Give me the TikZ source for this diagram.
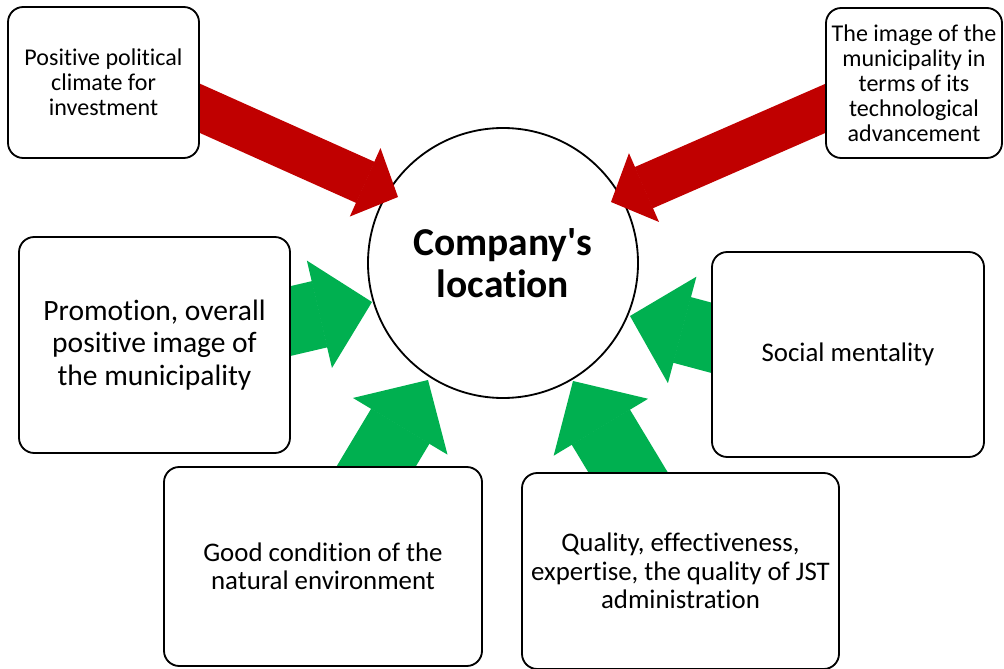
\documentclass[tikz,border=0pt]{standalone}
\usepackage{fontspec}
\setmainfont{Carlito}[Ligatures={TeXOff,NoCommon}]
\usetikzlibrary{arrows.meta}
\definecolor{darkred}{HTML}{C00000}
\definecolor{brightgreen}{HTML}{00B050}
\pgfdeclarelayer{back}
\pgfdeclarelayer{mid}
\pgfsetlayers{back,mid,main}

\begin{document}
\begin{tikzpicture}[
    box/.style={draw, fill=white, line width=1.3pt, rounded corners=0.38cm, align=center},
    hub/.style={draw, fill=white, circle, line width=1.3pt, minimum size=6.75cm, inner sep=0pt, align=center, font=\bfseries\fontsize{28.1}{29.9}\selectfont},
    smalltext/.style={font=\fontsize{17.1}{17.8}\selectfont},
    midtext/.style={font=\fontsize{19.1}{20.3}\selectfont},
    bigtext/.style={font=\fontsize{21}{23.1}\selectfont},
    redarrow/.style={draw=darkred, line width=1.125cm, -{Triangle[width=1.87cm, length=0.9cm, line width=1pt]}, shorten <=-0.6cm},
    greenarrow/.style={draw=brightgreen, line width=1.7cm, -{Triangle[width=2.75cm, length=1.35cm, line width=1pt]}, shorten <=-0.6cm},
]
\useasboundingbox (0,0) rectangle (25.1,16.7);

% the circle in the middle sits under the arrows
\begin{pgfonlayer}{back}
\node[hub] (loc) at (12.575,10.125) {Company's\\location};
\end{pgfonlayer}

% factors
\node[box, smalltext, minimum width=4.775cm, minimum height=3.775cm] (climate) at (2.5875,14.6375) {Positive political\\climate for\\investment};
\node[box, smalltext, minimum width=4.4cm, minimum height=3.75cm] (tech) at (22.85,14.625) {The image of the\\municipality in\\terms of its\\technological\\advancement};
\node[box, bigtext, minimum width=6.775cm, minimum height=5.4cm] (promo) at (3.8625,8.075) {Promotion, overall\\positive image of\\the municipality};
\node[box, midtext, minimum width=6.8cm, minimum height=5.125cm] (social) at (21.2,7.8375) {Social mentality};
\node[box, midtext, minimum width=7.95cm, minimum height=4.975cm] (nature) at (8.075,2.5375) {Good condition of the\\natural environment};
\node[box, midtext, minimum width=7.925cm, minimum height=4.9cm] (admin) at (17.0125,2.425) {Quality, effectiveness,\\expertise, the quality of JST\\administration};

% where the arrow heads end, just inside the circle
\coordinate (tipclimate) at (9.95,11.775);
\coordinate (tiptech) at (15.275,11.65);
\coordinate (tippromo) at (9.3,9.15);
\coordinate (tipnature) at (10.7,7.2);
\coordinate (tipadmin) at (14.325,7.175);
\coordinate (tipsocial) at (15.75,8.8);

% arrows go over the circle but under the boxes
\begin{pgfonlayer}{mid}
\draw[redarrow] (climate.-15) -- (tipclimate);
\draw[redarrow] (tech.196) -- (tiptech);
\draw[greenarrow] (promo.10) -- (tippromo);
\draw[greenarrow] (nature.62) -- (tipnature);
\draw[greenarrow] (admin.118) -- (tipadmin);
\draw[greenarrow] (social.173) -- (tipsocial);
\end{pgfonlayer}
\end{tikzpicture}
\end{document}
